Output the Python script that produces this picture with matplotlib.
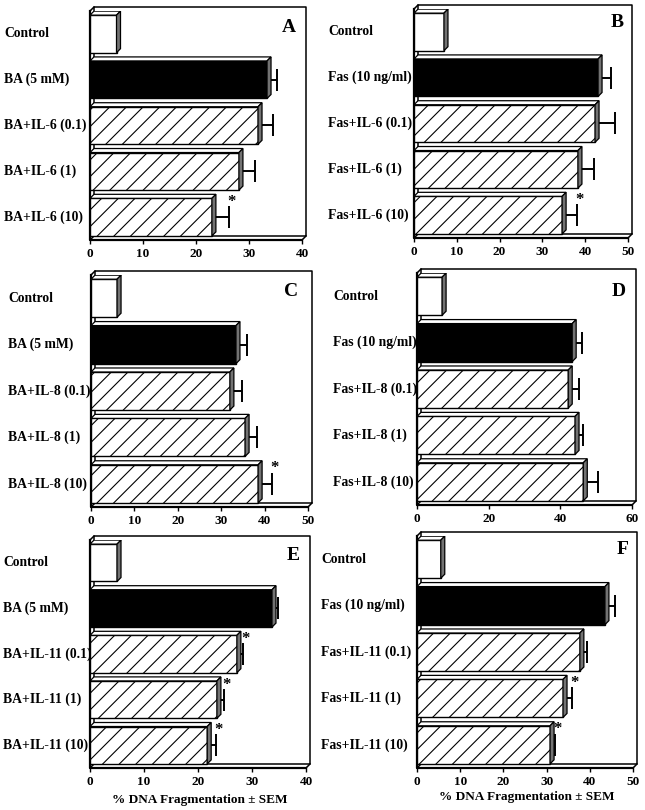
import numpy as np
import matplotlib.pyplot as plt
from matplotlib.patches import Polygon
from matplotlib.transforms import blended_transform_factory

# ---*** SETTINGS ***---
plt.rcParams['font.family'] = ['Liberation Serif', 'DejaVu Serif']
plt.rcParams['font.weight'] = 'bold'
plt.rcParams['hatch.linewidth'] = 0.8
plt.rcParams['hatch.color'] = 'black'

W, H = 645, 810
depth = 4.0  # px, fake 3D depth

# ---*** DATA ***---
labA = ["Control", "BA (5 mM)", "BA+IL-6 (0.1)", "BA+IL-6 (1)", "BA+IL-6 (10)"]
valA = [5, 33.4, 31.7, 28.1, 23.0]
errA = [0, 1.9, 2.8, 3.0, 3.2]
starA = [4]

labB = ["Control", "Fas (10 ng/ml)", "Fas+IL-6 (0.1)", "Fas+IL-6 (1)", "Fas+IL-6 (10)"]
valB = [7, 43, 42.3, 38.3, 34.6]
errB = [0, 3.0, 4.7, 3.7, 3.5]
starB = [4]

labC = ["Control", "BA (5 mM)", "BA+IL-8 (0.1)", "BA+IL-8 (1)", "BA+IL-8 (10)"]
valC = [6, 33.4, 32, 35.5, 38.5]
errC = [0, 2.6, 2.8, 2.7, 3.2]
starC = [4]

labD = ["Control", "Fas (10 ng/ml)", "Fas+IL-8 (0.1)", "Fas+IL-8 (1)", "Fas+IL-8 (10)"]
valD = [7, 43.3, 42.2, 44.1, 46.4]
errD = [0, 2.8, 3.1, 2.3, 4.2]
starD = []

labE = ["Control", "BA (5 mM)", "BA+IL-11 (0.1)", "BA+IL-11 (1)", "BA+IL-11 (10)"]
valE = [5, 33.7, 27.2, 23.5, 21.7]
errE = [0, 1.1, 1.1, 1.3, 1.7]
starE = [2, 3, 4]

labF = ["Control", "Fas (10 ng/ml)", "Fas+IL-11 (0.1)", "Fas+IL-11 (1)", "Fas+IL-11 (10)"]
valF = [5.5, 43.5, 37.7, 33.8, 30.8]
errF = [0, 2.3, 1.6, 2.1, 1.2]
starF = [3, 4]

xlabel = "% DNA Fragmentation \u00b1 SEM"

# panel: letter, labels, values, errors, stars, xmax, xstep, front box px (l, t, r, b), label x px, letter pos
panels = [
	("A", labA, valA, errA, starA, 40, 10, (90, 11, 302, 240), 4, (0.94, 0.93)),
	("B", labB, valB, errB, starB, 50, 10, (414, 9, 628, 238), 328, (0.95, 0.94)),
	("C", labC, valC, errC, starC, 50, 10, (91, 275, 308, 507), 8, (0.92, 0.93)),
	("D", labD, valD, errD, starD, 60, 20, (417, 273, 632, 505), 333, (0.94, 0.92)),
	("E", labE, valE, errE, starE, 40, 10, (90, 540, 306, 768), 3, (0.94, 0.93)),
	("F", labF, valF, errF, starF, 50, 10, (417, 536, 633, 768), 321, (0.95, 0.94)),
]

# ---*** FUNCTIONS ***---
def draw_panel(fig, letter, labs, vals, errs, stars, xmax, xstep, box, labx, letpos):
	l, t, r, b = box
	ax = fig.add_axes([l/W, (H-b)/H, (r-l)/W, (b-t)/H])
	ax.set_xlim(0, xmax)
	ax.set_ylim(0, 5)
	ddx = depth*xmax/(r-l)
	ddy = depth*5.0/(b-t)

	# box (back wall, left wall, floor)
	kw = dict(color='black', lw=1.1, clip_on=False, zorder=1)
	ax.plot([ddx, ddx, xmax+ddx, xmax+ddx, ddx], [ddy, 5+ddy, 5+ddy, ddy, ddy], **kw)
	ax.plot([0, 0, xmax], [5, 0, 0], color='black', lw=1.6, clip_on=False, zorder=1)
	ax.plot([0, ddx], [5, 5+ddy], **kw)
	ax.plot([0, ddx], [0, ddy], **kw)
	ax.plot([xmax, xmax+ddx], [0, ddy], **kw)

	ypos = np.arange(4.5, 0, -1.0)
	hb = 0.82
	for i in range(5):
		v = vals[i]
		y0 = ypos[i] - hb/2
		y1 = ypos[i] + hb/2
		if i == 0:
			fc, hatch = 'white', None
		elif i == 1:
			fc, hatch = 'black', None
		else:
			fc, hatch = 'white', '//'
		if errs[i] > 0:
			ax.errorbar(v, ypos[i], xerr=[[0], [errs[i]]], fmt='none', ecolor='black',
						elinewidth=1.4, capsize=8, capthick=1.4, zorder=2)
		ax.barh(ypos[i], v, height=hb, color=fc, edgecolor='black', hatch=hatch,
				linewidth=1.0, zorder=3)
		top = Polygon([(0, y1), (v, y1), (v+ddx, y1+ddy), (ddx, y1+ddy)],
					  closed=True, facecolor='white', edgecolor='black', lw=0.9, zorder=3)
		side = Polygon([(v, y0), (v, y1), (v+ddx, y1+ddy), (v+ddx, y0+ddy)],
					   closed=True, facecolor='0.45', edgecolor='black', lw=0.9, zorder=3)
		ax.add_patch(top)
		ax.add_patch(side)
		if i in stars:
			ax.text(v+errs[i]+ddx*0.6, y1-0.08, "*", ha='center', va='center', fontsize=12, zorder=5)

	trans = blended_transform_factory(fig.transFigure, ax.transData)
	for i in range(5):
		ax.text(labx/W, ypos[i], labs[i], transform=trans, ha='left', va='center', fontsize=9.8)

	ax.text(letpos[0], letpos[1], letter, transform=ax.transAxes, ha='center', va='center', fontsize=14)

	for s in ax.spines.values():
		s.set_visible(False)
	ax.set_yticks([])
	ax.set_xticks(np.arange(0, xmax+1, xstep))
	ax.tick_params(axis='x', length=3, width=1, direction='out', pad=3, labelsize=9.5)
	ax.patch.set_alpha(0)
	return ax

# ---*** SCRIPT ***---
fig = plt.figure(figsize=(W/100, H/100), dpi=100)
for p in panels:
	draw_panel(fig, *p)

fig.text(200/W, 1-800/H, xlabel, ha='center', va='center', fontsize=9.5)
fig.text(527/W, 1-797/H, xlabel, ha='center', va='center', fontsize=9.5)

fig.savefig("out.png", dpi=100)
